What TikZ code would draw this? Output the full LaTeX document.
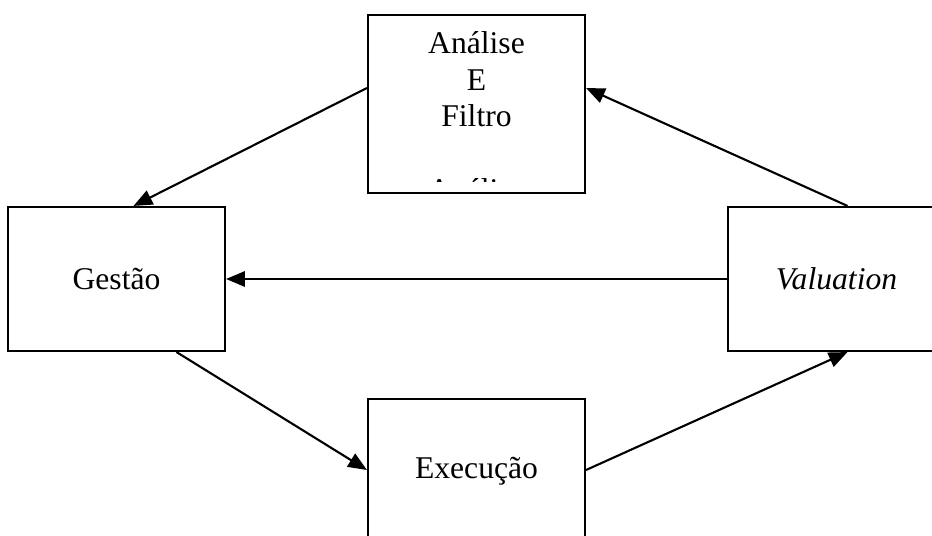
\documentclass[tikz,border=0pt]{standalone}
\usepackage{fontspec}
\setmainfont{Liberation Serif}
\usetikzlibrary{calc,arrows.meta}

\begin{document}
\begin{tikzpicture}[x=0.03cm,y=0.03cm,
    txt/.style={font=\fontsize{27}{31.5}\selectfont},
    box/.style={txt,draw,line width=1.8pt,minimum width=6.51cm,inner sep=0pt},
    link/.style={line width=1.8pt,-{Triangle[length=16pt,width=13pt]}}]
  \clip (0,0) rectangle (932,535);
  \node[box,minimum height=5.34cm](analise)at(476.5,431){};
  \node[box,minimum height=4.32cm](gestao)at(116.5,256){Gestão};
  \node[box,minimum height=4.32cm](valuation)at(836.5,256){\textit{Valuation}};
  \node[box,minimum height=4.32cm](execucao)at(476.5,64){Execução};
  \node[txt,anchor=base,align=center](titulo)at($(analise.north)+(0,-113)$){Análise\\E\\Filtro};
  \begin{scope}
    \clip (analise.north west) rectangle ($(analise.north east)+(0,-168)$);
    \node[txt,anchor=base](resto)at($(analise.north)+(0,-187)$){Análise};
  \end{scope}
  \draw[link] ($(analise.west)+(0,16)$) -- ($(gestao.north)+(17,0)$);
  \draw[link] ($(valuation.north)+(11,0)$) -- ($(analise.east)+(0,16)$);
  \draw[link] (valuation.west) -- (gestao.east);
  \draw[link] ($(gestao.south)+(60,0)$) -- ($(execucao.west)+(0,1)$);
  \draw[link] ($(execucao.east)+(0,1)$) -- ($(valuation.south)+(11,0)$);
\end{tikzpicture}
\end{document}
